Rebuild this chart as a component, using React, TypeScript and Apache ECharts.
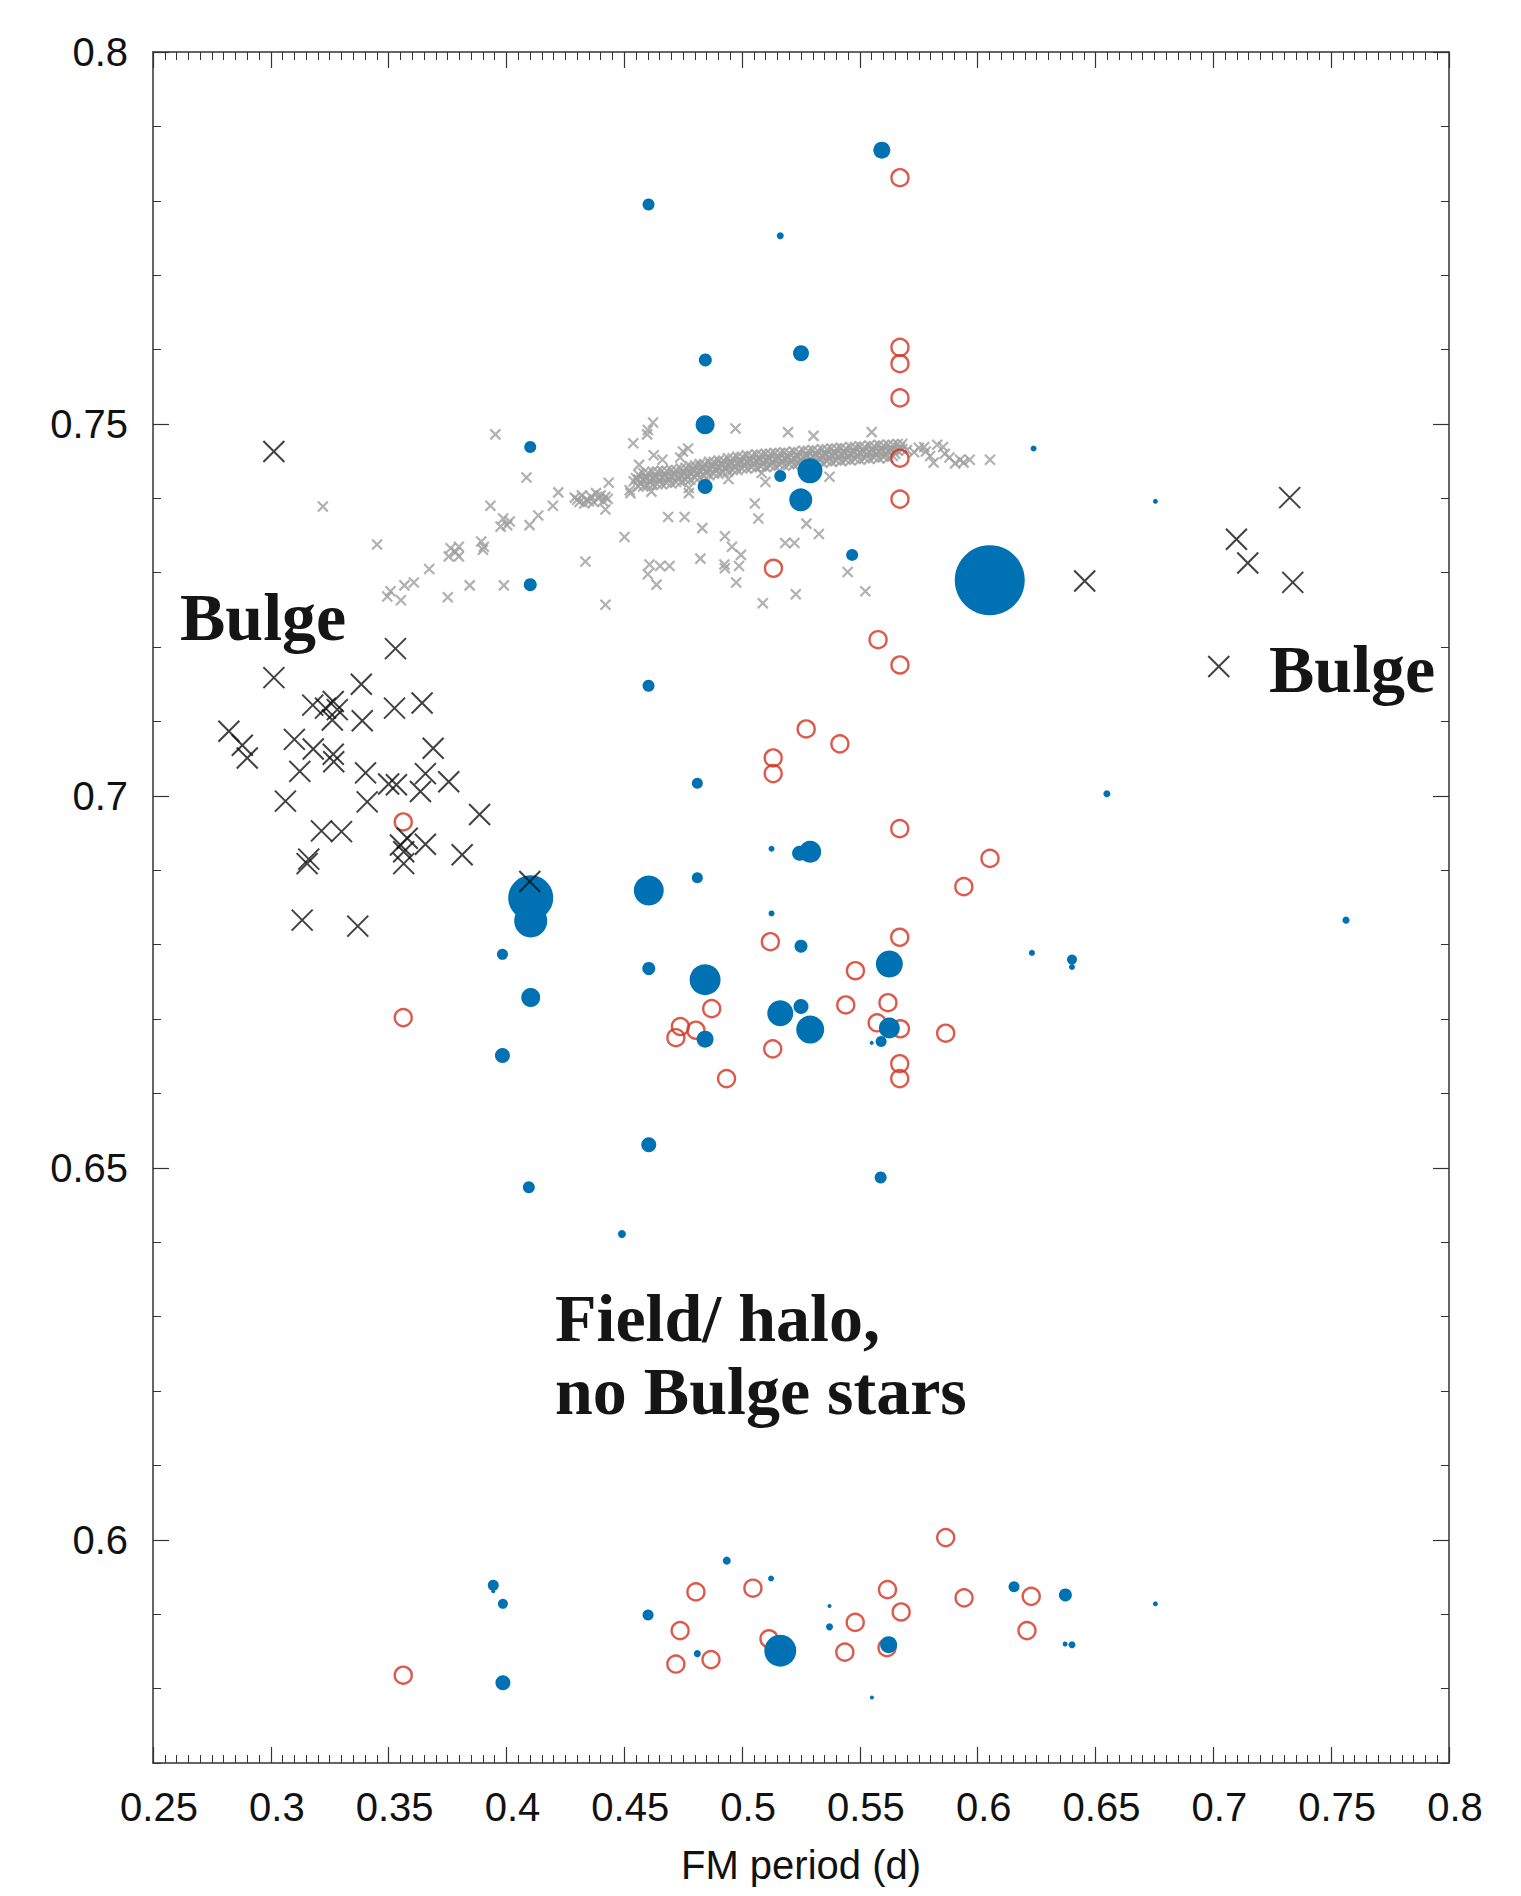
import React, { useEffect, useRef } from 'react';
import * as echarts from 'echarts';

// ---------- data ----------
const xTickLabels = [0.25, 0.3, 0.35, 0.4, 0.45, 0.5, 0.55, 0.6, 0.65, 0.7, 0.75, 0.8];
const yTickLabels = [0.6, 0.65, 0.7, 0.75, 0.8];

// Bulge stars (black crosses)
const bulgeStars: [number, number][] = [
  [0.3013, 0.7463], [0.3529, 0.7198], [0.3013, 0.7159], [0.3384, 0.715], [0.3178, 0.7122],
  [0.3265, 0.7127], [0.3232, 0.7118], [0.3282, 0.7116], [0.3525, 0.7118], [0.3642, 0.7125],
  [0.3261, 0.7102], [0.3388, 0.7101], [0.2822, 0.7087], [0.2879, 0.7068], [0.29, 0.7051],
  [0.31, 0.7076], [0.318, 0.7063], [0.3265, 0.7056], [0.3267, 0.7046], [0.3689, 0.7064],
  [0.3123, 0.7033], [0.3402, 0.7031], [0.35, 0.7016], [0.3533, 0.7015], [0.3656, 0.703],
  [0.3635, 0.7006], [0.3755, 0.7019], [0.3062, 0.6993], [0.3409, 0.6992], [0.3886, 0.6975],
  [0.3215, 0.6953], [0.33, 0.6952], [0.3579, 0.6943], [0.355, 0.6934], [0.3656, 0.6935],
  [0.3812, 0.6921], [0.3161, 0.6915], [0.3154, 0.6909], [0.3564, 0.6909], [0.3564, 0.6925],
  [0.4099, 0.6885], [0.3133, 0.6833], [0.3369, 0.6825],
  [0.6454, 0.7289], [0.7324, 0.7401], [0.7098, 0.7345], [0.7146, 0.7313], [0.7337, 0.7287],
  [0.7023, 0.7174],
];

// comparison sample (small grey crosses): scattered points
const greyScatter: [number, number][] = [
  [0.3953, 0.7486], [0.4085, 0.7428], [0.4538, 0.7474], [0.3221, 0.7389], [0.3932, 0.739],
  [0.422, 0.7408], [0.4197, 0.739], [0.4434, 0.7421], [0.442, 0.7385], [0.4135, 0.7377],
  [0.3986, 0.7373], [0.4014, 0.7369], [0.3975, 0.7362], [0.4003, 0.7364], [0.4098, 0.7364],
  [0.3451, 0.7338], [0.3893, 0.7342], [0.3904, 0.7335], [0.39, 0.7331], [0.3763, 0.7333],
  [0.3798, 0.7335], [0.3755, 0.7322], [0.3798, 0.7322], [0.3784, 0.7328], [0.3672, 0.7305],
  [0.3607, 0.7287], [0.3567, 0.7283], [0.3508, 0.7275], [0.3494, 0.7268], [0.3552, 0.7263],
  [0.3751, 0.7267], [0.3844, 0.7283], [0.3989, 0.7283], [0.4335, 0.7315], [0.4501, 0.7348],
  [0.442, 0.7257], [0.4523, 0.7411], [0.4526, 0.7407],
  [0.4622, 0.7502], [0.46, 0.7492], [0.4597, 0.7486], [0.4972, 0.7494], [0.5195, 0.7489],
  [0.555, 0.7489], [0.5303, 0.7484], [0.4615, 0.7409], [0.4686, 0.7375], [0.4756, 0.7375],
  [0.4831, 0.736], [0.4927, 0.7349], [0.4957, 0.7335], [0.4995, 0.7324], [0.4823, 0.7319],
  [0.4607, 0.7311], [0.4652, 0.7309], [0.4692, 0.7309], [0.46, 0.7298], [0.4637, 0.7284],
  [0.4925, 0.7311], [0.4927, 0.7306], [0.4987, 0.7309], [0.4975, 0.7287], [0.5054, 0.7393],
  [0.5069, 0.7373], [0.5088, 0.7259], [0.5183, 0.734], [0.5222, 0.734], [0.5228, 0.7271],
  [0.5273, 0.7366], [0.5326, 0.7352], [0.5371, 0.7429], [0.5448, 0.7301], [0.5523, 0.7275],
  [0.5083, 0.7434], [0.5099, 0.7422], [0.4942, 0.7426], [0.4774, 0.7407], [0.4774, 0.7414],
  [0.5773, 0.7469], [0.5798, 0.7457], [0.5828, 0.7472], [0.5853, 0.7469], [0.5813, 0.7448],
  [0.5904, 0.7447], [0.5925, 0.7452], [0.5966, 0.7452], [0.6052, 0.7452], [0.4749, 0.7463],
  [0.4771, 0.7467], [0.4737, 0.7455], [0.4662, 0.7452], [0.4563, 0.7445], [0.4625, 0.7458],
  [0.573, 0.7462], [0.575, 0.7468], [0.578, 0.7463], [0.586, 0.746], [0.588, 0.7455],
  [0.594, 0.7448],
];

// comparison sample: small clump near 0.43-0.44
const greyClump: [number, number][] = [
  [0.429, 0.7401], [0.431, 0.7395], [0.432, 0.7404], [0.434, 0.7398], [0.436, 0.7402],
  [0.437, 0.7395], [0.439, 0.74], [0.44, 0.7404], [0.441, 0.7396], [0.443, 0.7399],
  [0.433, 0.7393], [0.438, 0.7407], [0.430, 0.7398], [0.435, 0.7396], [0.442, 0.7402],
];

// comparison sample: dense sequence, read as rows across its thickness
const greyBandUpper: [number, number][] = [
  [0.456, 0.7432], [0.46, 0.7434], [0.464, 0.7436], [0.468, 0.7437], [0.472, 0.7438],
  [0.476, 0.7441], [0.48, 0.7444], [0.484, 0.7446], [0.488, 0.7449], [0.492, 0.7451],
  [0.496, 0.7454], [0.5, 0.7456], [0.504, 0.7457], [0.508, 0.7459], [0.512, 0.746],
  [0.516, 0.7461], [0.52, 0.7461], [0.524, 0.7462], [0.528, 0.7464], [0.532, 0.7464],
  [0.536, 0.7466], [0.54, 0.7467], [0.544, 0.7467], [0.548, 0.7469], [0.552, 0.7469],
  [0.556, 0.747], [0.56, 0.7471], [0.564, 0.7472], [0.568, 0.7473],
];
const greyBandUpperB: [number, number][] = [
  [0.458, 0.7434], [0.462, 0.7436], [0.466, 0.7437], [0.47, 0.7438], [0.474, 0.744],
  [0.478, 0.7443], [0.482, 0.7446], [0.486, 0.7449], [0.49, 0.7451], [0.494, 0.7454],
  [0.498, 0.7456], [0.502, 0.7458], [0.506, 0.7459], [0.51, 0.746], [0.514, 0.7461],
  [0.518, 0.7462], [0.522, 0.7463], [0.526, 0.7464], [0.53, 0.7465], [0.534, 0.7466],
  [0.538, 0.7467], [0.542, 0.7468], [0.546, 0.7469], [0.55, 0.747], [0.554, 0.7471],
  [0.558, 0.7472], [0.562, 0.7472], [0.566, 0.7473],
];
const greyBandUpperMid: [number, number][] = [
  [0.455, 0.7427], [0.459, 0.7429], [0.463, 0.7431], [0.467, 0.7432], [0.471, 0.7434],
  [0.475, 0.7436], [0.479, 0.7439], [0.483, 0.7442], [0.487, 0.7445], [0.491, 0.7447],
  [0.495, 0.7449], [0.499, 0.7451], [0.503, 0.7453], [0.507, 0.7454], [0.511, 0.7455],
  [0.515, 0.7456], [0.519, 0.7457], [0.523, 0.7458], [0.527, 0.7459], [0.531, 0.746],
  [0.535, 0.7461], [0.539, 0.7462], [0.543, 0.7463], [0.547, 0.7464], [0.551, 0.7465],
  [0.555, 0.7466], [0.559, 0.7467], [0.563, 0.7467], [0.567, 0.7468],
];
const greyBandMiddle: [number, number][] = [
  [0.454, 0.7423], [0.458, 0.7425], [0.462, 0.7427], [0.466, 0.7428], [0.47, 0.7429],
  [0.474, 0.7431], [0.478, 0.7434], [0.482, 0.7437], [0.486, 0.744], [0.49, 0.7442],
  [0.494, 0.7445], [0.498, 0.7447], [0.502, 0.7449], [0.506, 0.745], [0.51, 0.7451],
  [0.514, 0.7452], [0.518, 0.7453], [0.522, 0.7454], [0.526, 0.7455], [0.53, 0.7456],
  [0.534, 0.7457], [0.538, 0.7458], [0.542, 0.7459], [0.546, 0.746], [0.55, 0.7461],
  [0.554, 0.7462], [0.558, 0.7463], [0.562, 0.7463], [0.566, 0.7464], [0.57, 0.7465],
];
const greyBandMiddleB: [number, number][] = [
  [0.456, 0.7425], [0.46, 0.7427], [0.464, 0.7428], [0.468, 0.7429], [0.472, 0.7431],
  [0.476, 0.7433], [0.48, 0.7437], [0.484, 0.744], [0.488, 0.7443], [0.492, 0.7445],
  [0.496, 0.7447], [0.5, 0.7449], [0.504, 0.7451], [0.508, 0.7452], [0.512, 0.7453],
  [0.516, 0.7454], [0.52, 0.7455], [0.524, 0.7456], [0.528, 0.7457], [0.532, 0.7458],
  [0.536, 0.7459], [0.54, 0.746], [0.544, 0.7461], [0.548, 0.7462], [0.552, 0.7463],
  [0.556, 0.7463], [0.56, 0.7464], [0.564, 0.7465], [0.568, 0.7466],
];
const greyBandLowerMid: [number, number][] = [
  [0.457, 0.742], [0.461, 0.7422], [0.465, 0.7424], [0.469, 0.7425], [0.473, 0.7427],
  [0.477, 0.7429], [0.481, 0.7432], [0.485, 0.7435], [0.489, 0.7438], [0.493, 0.744],
  [0.497, 0.7442], [0.501, 0.7444], [0.505, 0.7446], [0.509, 0.7447], [0.513, 0.7448],
  [0.517, 0.7449], [0.521, 0.745], [0.525, 0.7451], [0.529, 0.7452], [0.533, 0.7453],
  [0.537, 0.7454], [0.541, 0.7455], [0.545, 0.7456], [0.549, 0.7457], [0.553, 0.7458],
  [0.557, 0.7459], [0.561, 0.7459], [0.565, 0.746],
];
const greyBandLower: [number, number][] = [
  [0.456, 0.7416], [0.46, 0.7418], [0.464, 0.7419], [0.468, 0.7421], [0.472, 0.7422],
  [0.476, 0.7425], [0.48, 0.7428], [0.484, 0.743], [0.488, 0.7433], [0.492, 0.7435],
  [0.496, 0.7438], [0.5, 0.744], [0.504, 0.7442], [0.508, 0.7443], [0.512, 0.7444],
  [0.516, 0.7445], [0.52, 0.7446], [0.524, 0.7447], [0.528, 0.7448], [0.532, 0.7449],
  [0.536, 0.745], [0.54, 0.7451], [0.544, 0.7452], [0.548, 0.7453], [0.552, 0.7454],
  [0.556, 0.7455], [0.56, 0.7456], [0.564, 0.7457],
];
const greyBandLowerB: [number, number][] = [
  [0.458, 0.7416], [0.462, 0.7418], [0.466, 0.7419], [0.47, 0.742], [0.474, 0.7422],
  [0.478, 0.7425], [0.482, 0.7428], [0.486, 0.7431], [0.49, 0.7433], [0.494, 0.7436],
  [0.498, 0.7438], [0.502, 0.744], [0.506, 0.7441], [0.51, 0.7442], [0.514, 0.7443],
  [0.518, 0.7444], [0.522, 0.7445], [0.526, 0.7446], [0.53, 0.7447], [0.534, 0.7448],
  [0.538, 0.7449], [0.542, 0.745], [0.546, 0.7451], [0.55, 0.7452], [0.554, 0.7453],
  [0.558, 0.7454], [0.562, 0.7454],
];

// field / halo stars, open red circles
const openRed: [number, number][] = [
  [0.567, 0.7831], [0.567, 0.7603], [0.567, 0.7581], [0.567, 0.7535], [0.567, 0.7454],
  [0.567, 0.7399], [0.5133, 0.7306], [0.5577, 0.721], [0.567, 0.7176],
  [0.5272, 0.709], [0.5415, 0.707], [0.5132, 0.7051], [0.5132, 0.703], [0.5669, 0.6956],
  [0.6052, 0.6916], [0.5941, 0.6878], [0.512, 0.6804], [0.5669, 0.681], [0.5481, 0.6765],
  [0.4871, 0.6714], [0.544, 0.6719], [0.5619, 0.6722], [0.5573, 0.6695], [0.5672, 0.6687],
  [0.5864, 0.6681], [0.4738, 0.669], [0.4804, 0.6685], [0.4719, 0.6675], [0.513, 0.666],
  [0.5669, 0.664], [0.5669, 0.662], [0.4934, 0.662], [0.3562, 0.6965], [0.3562, 0.6702],
  [0.3562, 0.5818], [0.4804, 0.593], [0.4737, 0.5878], [0.4719, 0.5833], [0.4868, 0.5839],
  [0.5046, 0.5935], [0.5114, 0.5867], [0.5436, 0.5849], [0.548, 0.5889], [0.5617, 0.5933],
  [0.5675, 0.5903], [0.5615, 0.5855], [0.5864, 0.6003], [0.5942, 0.5922], [0.6227, 0.5924],
  [0.6209, 0.5878],
];

// field / halo stars, filled blue circles: [period, value, marker diameter]
const filledBlue: [number, number, number][] = [
  [0.5593, 0.7868, 17], [0.4603, 0.7795, 12], [0.5162, 0.7753, 7], [0.4844, 0.7586, 13],
  [0.525, 0.7595, 16], [0.4101, 0.7469, 12], [0.4843, 0.7499, 19], [0.5288, 0.7437, 25],
  [0.5162, 0.743, 12], [0.4843, 0.7416, 15], [0.5249, 0.7398, 23], [0.6237, 0.7467, 6],
  [0.6754, 0.7396, 5], [0.5467, 0.7324, 12], [0.6051, 0.729, 70], [0.4101, 0.7284, 13],
  [0.4603, 0.7148, 12], [0.481, 0.7017, 11], [0.6548, 0.7003, 7], [0.5125, 0.6929, 6],
  [0.5244, 0.6923, 15], [0.5289, 0.6925, 22], [0.481, 0.689, 11], [0.4604, 0.6873, 30],
  [0.4103, 0.6832, 33], [0.4103, 0.6863, 45], [0.5125, 0.6842, 6], [0.525, 0.6798, 13],
  [0.623, 0.6789, 6], [0.64, 0.678, 10], [0.64, 0.677, 6], [0.3983, 0.6787, 11],
  [0.4604, 0.6768, 13], [0.4843, 0.6753, 31], [0.5625, 0.6774, 27], [0.4103, 0.6729, 19],
  [0.5162, 0.6708, 26], [0.525, 0.6717, 15], [0.5289, 0.6686, 28], [0.4843, 0.6673, 17],
  [0.5625, 0.6688, 21], [0.559, 0.667, 11], [0.555, 0.6668, 4], [0.3983, 0.6651, 15],
  [0.4604, 0.6531, 15], [0.5588, 0.6487, 12], [0.4095, 0.6474, 12], [0.449, 0.6411, 8],
  [0.7563, 0.6833, 7],
  [0.3944, 0.5939, 11], [0.3944, 0.5931, 4], [0.3985, 0.5914, 10], [0.3985, 0.5808, 15],
  [0.4601, 0.5899, 11], [0.4935, 0.5972, 8], [0.5123, 0.5948, 6], [0.481, 0.5847, 7],
  [0.5371, 0.5911, 4], [0.5371, 0.5883, 7], [0.5551, 0.5788, 4], [0.5622, 0.5859, 17],
  [0.6154, 0.5937, 11], [0.6372, 0.5926, 13], [0.6371, 0.586, 5], [0.64, 0.5859, 7],
  [0.6754, 0.5914, 5], [0.5162, 0.5851, 32],
];

const annotations = [
  { text: 'Bulge', x: 180, baseline: 640 },
  { text: 'Bulge', x: 1269, baseline: 692 },
  { text: 'Field/ halo,', x: 555, baseline: 1341 },
  { text: 'no Bulge stars', x: 555, baseline: 1414 },
];

// ---------- style ----------
const W = 1521;
const H = 1896;
const GRID = { left: 153, top: 52, width: 1296, height: 1711 };
const AXIS_COLOR = '#333';
const LABEL_FONT = 'Liberation Sans';
const NOTE_SIZE = 68;
const CROSS = 'path://M0,0L10,10M10,0L0,10';

const fmt = (v: number) => String(parseFloat(Number(v).toFixed(2)));
const isMajorY = (v: number) => Math.abs(v * 20 - Math.round(v * 20)) < 1e-6;

export default function App() {
  const ref = useRef<HTMLDivElement>(null);

  useEffect(() => {
    document.body.style.margin = '0';
    if (!ref.current) return;
    const chart = echarts.init(ref.current, undefined, { renderer: 'svg' });

    const xBase = {
      type: 'value',
      min: 0.25,
      max: 0.8,
      interval: 0.05,
      gridIndex: 0,
      splitLine: { show: false },
      axisLine: { show: true, onZero: false, lineStyle: { color: AXIS_COLOR, width: 1.5 } },
      axisTick: { show: true, inside: true, length: 16, lineStyle: { color: AXIS_COLOR, width: 1.2 } },
      minorTick: { show: true, splitNumber: 10, length: 8, lineStyle: { color: AXIS_COLOR, width: 1 } },
      minorSplitLine: { show: false },
    };

    const yMinor = {
      type: 'value',
      min: 0.57,
      max: 0.8,
      interval: 0.01,
      gridIndex: 0,
      splitLine: { show: false },
      axisLine: { show: true, onZero: false, lineStyle: { color: AXIS_COLOR, width: 1.5 } },
      axisTick: { show: true, inside: true, length: 8, lineStyle: { color: AXIS_COLOR, width: 1 } },
      axisLabel: { show: false },
    };

    const yMajor = (position: string, withLabels: boolean) => ({
      type: 'value',
      min: 0.57,
      max: 0.8,
      position,
      gridIndex: 0,
      splitLine: { show: false },
      axisLine: { show: false },
      axisTick: {
        show: true,
        inside: true,
        length: 16,
        customValues: yTickLabels,
        lineStyle: { color: AXIS_COLOR, width: 1.2 },
      },
      axisLabel: {
        show: withLabels,
        customValues: yTickLabels,
        margin: 25,
        fontSize: 40,
        fontFamily: LABEL_FONT,
        color: '#111',
        formatter: (v: number) => (isMajorY(v) ? fmt(v) : ''),
      },
    });

    const option: any = {
      animation: false,
      backgroundColor: '#ffffff',
      grid: { ...GRID, containLabel: false },
      xAxis: [
        {
          ...xBase,
          position: 'bottom',
          axisLabel: {
            show: true,
            margin: 24,
            fontSize: 40,
            fontFamily: LABEL_FONT,
            color: '#111',
            padding: [0, 0, 0, 12],
            formatter: (v: number) => fmt(v),
            customValues: xTickLabels,
          },
          name: 'FM period (d)',
          nameLocation: 'middle',
          nameGap: 82,
          nameTextStyle: { fontSize: 40, fontFamily: LABEL_FONT, color: '#111' },
        },
        { ...xBase, position: 'top', axisLabel: { show: false } },
      ],
      yAxis: [
        { ...yMinor, position: 'left' },
        yMajor('left', true),
        { ...yMinor, position: 'right' },
        yMajor('right', false),
      ],
      series: [
        {
          type: 'scatter',
          name: 'comparison band',
          silent: true,
          symbol: CROSS,
          symbolSize: 10,
          itemStyle: { color: 'none', borderColor: '#9e9e9e', borderWidth: 2.2 },
          data: [
            ...greyBandLower,
            ...greyBandLowerB,
            ...greyBandLowerMid,
            ...greyBandMiddle,
            ...greyBandMiddleB,
            ...greyBandUpperMid,
            ...greyBandUpper,
            ...greyBandUpperB,
            ...greyClump,
            ...greyScatter,
          ],
          z: 2,
        },
        {
          type: 'scatter',
          name: 'open',
          silent: true,
          symbol: 'circle',
          symbolSize: 17,
          itemStyle: { color: 'rgba(0,0,0,0)', borderColor: '#d3311f', borderWidth: 2.4 },
          data: openRed,
          z: 3,
        },
        {
          type: 'scatter',
          name: 'filled',
          silent: true,
          symbol: 'circle',
          symbolSize: (v: number[]) => v[2],
          itemStyle: { color: '#0071b3', opacity: 1 },
          data: filledBlue,
          z: 4,
        },
        {
          type: 'scatter',
          name: 'bulge',
          silent: true,
          symbol: CROSS,
          symbolSize: 21,
          itemStyle: { color: 'none', borderColor: '#111', borderWidth: 2 },
          data: bulgeStars,
          z: 5,
        },
      ],
      graphic: annotations.map((a) => ({
        type: 'text',
        silent: true,
        z: 100,
        x: a.x,
        y: a.baseline - 0.335 * NOTE_SIZE,
        style: {
          text: a.text,
          font: `bold ${NOTE_SIZE}px "Liberation Serif"`,
          fill: '#151515',
          align: 'left',
          verticalAlign: 'middle',
        },
      })),
    };

    chart.setOption(option);
    return () => chart.dispose();
  }, []);

  return <div ref={ref} style={{ width: W, height: H, background: '#fff' }} />;
}
